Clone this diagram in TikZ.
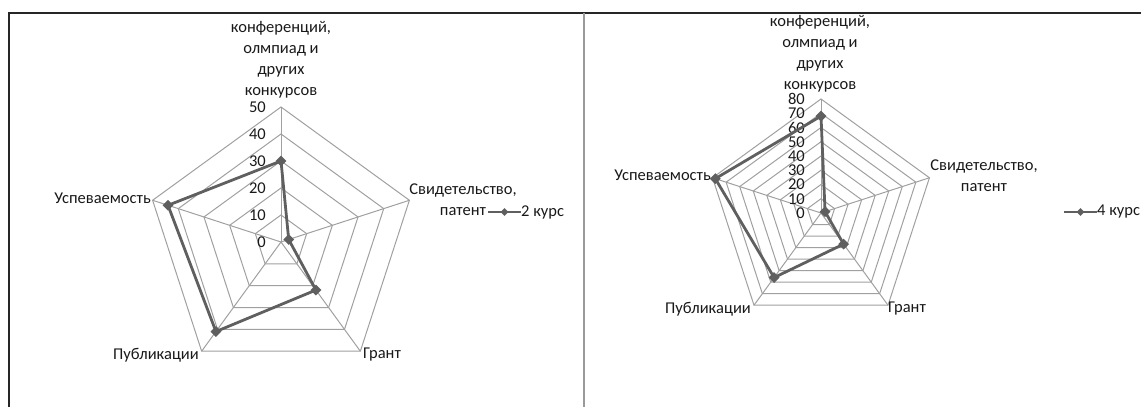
\documentclass[tikz,border=0pt]{standalone}
\usepackage{fontspec}
\setmainfont{Carlito}
\usetikzlibrary{shapes.geometric}
\definecolor{gridgray}{HTML}{A0A0A0}
\definecolor{seriesgray}{HTML}{5F5F5F}
\definecolor{framegray}{HTML}{9A9A9A}
\tikzset{gridline/.style={gridgray, line width=1pt}}
\tikzset{series/.style={seriesgray, line width=2.8pt, line join=round}}
\tikzset{marker/.style={diamond, fill=seriesgray, inner sep=0pt, minimum size=11pt}}
\tikzset{lbl/.style={inner sep=0pt, text=black!90, align=center, font=\fontsize{16.5}{21}\selectfont}}

\begin{document}
\begin{tikzpicture}[x=1pt, y=1pt]
  \useasboundingbox (0, 0) rectangle (1141, 407);

  \draw [black!85, line width=1.3pt] (9, 0) -- (9, 394) -- (1141, 394);
  \draw [framegray, line width=1.2pt] (584, 0) -- (584, 394);

  % 2 kurs
  \begin{scope}[shift={(281, 165)}]
    \foreach \r in {1,...,5}
      \draw [gridline] (90:27*\r) -- (18:27*\r) -- (-54:27*\r) -- (-126:27*\r) -- (162:27*\r) -- cycle;
    \foreach \a in {90,18,-54,-126,162}
      \draw [gridline] (0, 0) -- (\a:135);
    \foreach \v [count=\i from 0] in {0,10,...,50}
      \node (ltick\i) [lbl, anchor = east] at (-15, 27*\i) {\v};

    \node (l1) [marker] at (90:2.7*30) {};
    \node (l2) [marker] at (18:2.7*3) {};
    \node (l3) [marker] at (-54:2.7*22) {};
    \node (l4) [marker] at (-126:2.7*41) {};
    \node (l5) [marker] at (162:2.7*44) {};
    \draw [series] (l1.center) -- (l2.center) -- (l3.center) -- (l4.center) -- (l5.center) -- cycle;

    \node (ltop) [lbl, anchor = south] at (0, 144) {конференций,\\олмпиад и\\других\\конкурсов};
    \node (lusp) [lbl, anchor = east] at (-130, 44) {Успеваемость};
    \node (lsvid) [lbl] at (182, 42) {Свидетельство,\\патент};
    \node (lpub) [lbl, anchor = east] at (-82, -113) {Публикации};
    \node (lgrant) [lbl, anchor = west] at (82, -113) {Грант};
  \end{scope}

  \coordinate (lleg1) at (488, 195);
  \coordinate (lleg2) at (521, 195);
  \draw [series] (lleg1) -- (lleg2);
  \node (llegm) [marker, minimum size=8pt] at (504.5, 195) {};
  \node (llegt) [lbl, anchor = west] at (lleg2) {2 курс};

  % 4 kurs
  \begin{scope}[shift={(821, 194)}]
    \foreach \r in {1,...,8}
      \draw [gridline] (90:14.25*\r) -- (18:14.25*\r) -- (-54:14.25*\r) -- (-126:14.25*\r) -- (162:14.25*\r) -- cycle;
    \foreach \a in {90,18,-54,-126,162}
      \draw [gridline] (0, 0) -- (\a:114);
    \foreach \v [count=\i from 0] in {0,10,...,80}
      \node (rtick\i) [lbl, anchor = east] at (-16, 14.25*\i) {\v};

    \node (r1) [marker] at (90:1.425*68) {};
    \node (r2) [marker] at (18:1.425*3) {};
    \node (r3) [marker] at (-54:1.425*27) {};
    \node (r4) [marker] at (-126:1.425*56) {};
    \node (r5) [marker] at (162:1.425*78) {};
    \draw [series] (r1.center) -- (r2.center) -- (r3.center) -- (r4.center) -- (r5.center) -- cycle;

    \node (rtop) [lbl, anchor = south] at (-1, 121) {конференций,\\олмпиад и\\других\\конкурсов};
    \node (rusp) [lbl, anchor = east] at (-110, 38) {Успеваемость};
    \node (rsvid) [lbl] at (163, 37) {Свидетельство,\\патент};
    \node (rpub) [lbl, anchor = east] at (-70, -96) {Публикации};
    \node (rgrant) [lbl, anchor = west] at (67, -96) {Грант};
  \end{scope}

  \coordinate (rleg1) at (1064, 195);
  \coordinate (rleg2) at (1097, 195);
  \draw [series] (rleg1) -- (rleg2);
  \node (rlegm) [marker, minimum size=8pt] at (1080.5, 195) {};
  \node (rlegt) [lbl, anchor = west] at (rleg2) {4 курс};

\end{tikzpicture}
\end{document}
